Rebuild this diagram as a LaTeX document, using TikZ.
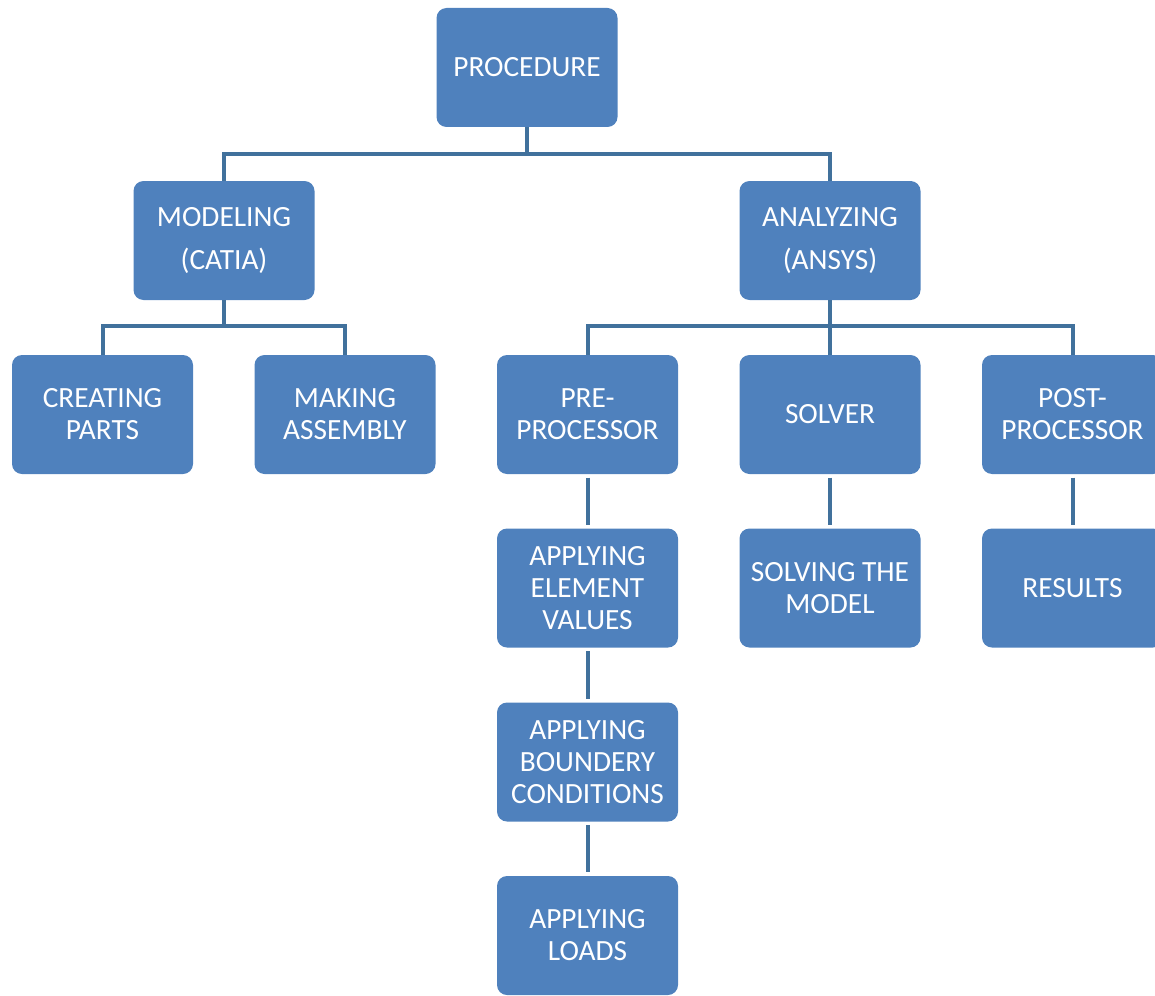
\documentclass[tikz,border=0pt]{standalone}
\usepackage{fontspec}
\setmainfont{Carlito}
\definecolor{boxblue}{HTML}{4F81BD}
\definecolor{lineblue}{HTML}{41719C}
\tikzset{
  stagebox/.style={fill=boxblue, rounded corners=7.5pt, text=white, align=center,
    minimum width=135.75pt, minimum height=89.25pt, inner sep=0pt,
    font=\fontsize{22}{24}\selectfont},
  link/.style={draw=lineblue, line width=3pt},
  chain/.style={link, shorten <=2.5pt, shorten >=2.5pt}
}

\begin{document}
\begin{tikzpicture}[x=0.75pt, y=-0.75pt]
\useasboundingbox (0,0) rectangle (1155,995);
% top level
\node[stagebox] (proc) at (527,67.5) {PROCEDURE};
% second level
\node[stagebox] (model) at (224,240.5) {MODELING\\[8pt](CATIA)};
\node[stagebox] (anal) at (830,240.5) {ANALYZING\\[8pt](ANSYS)};
% third level
\node[stagebox] (parts) at (102.5,414.5) {CREATING\\PARTS};
\node[stagebox] (assem) at (345,414.5) {MAKING\\ASSEMBLY};
\node[stagebox] (pre) at (587.5,414.5) {PRE-\\PROCESSOR};
\node[stagebox] (solver) at (830,414.5) {SOLVER};
\node[stagebox] (post) at (1072.5,414.5) {POST-\\PROCESSOR};
% lower steps
\node[stagebox] (elem) at (587.5,588) {APPLYING\\ELEMENT\\VALUES};
\node[stagebox] (solve) at (830,588) {SOLVING THE\\MODEL};
\node[stagebox] (res) at (1072.5,588) {RESULTS};
\node[stagebox] (bound) at (587.5,762) {APPLYING\\BOUNDERY\\CONDITIONS};
\node[stagebox] (loads) at (587.5,935.5) {APPLYING\\LOADS};
% tree links
\draw[link] (proc.south) -- ++(0,26.5) -| (model.north);
\draw[link] (proc.south) -- ++(0,26.5) -| (anal.north);
\draw[link] (model.south) -- ++(0,26) -| (parts.north);
\draw[link] (model.south) -- ++(0,26) -| (assem.north);
\draw[link] (anal.south) -- ++(0,26) -| (pre.north);
\draw[link] (anal.south) -- ++(0,26) -| (solver.north);
\draw[link] (anal.south) -- ++(0,26) -| (post.north);
% step chains
\draw[chain] (pre) -- (elem);
\draw[chain] (elem) -- (bound);
\draw[chain] (bound) -- (loads);
\draw[chain] (solver) -- (solve);
\draw[chain] (post) -- (res);
\end{tikzpicture}
\end{document}
